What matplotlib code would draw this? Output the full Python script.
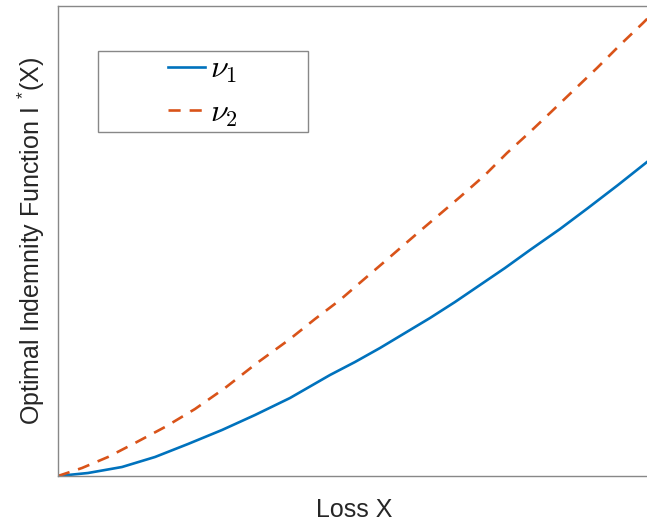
import matplotlib.pyplot as plt
from matplotlib.patches import Rectangle

plt.rcParams['font.family'] = ['Liberation Sans', 'DejaVu Sans']
plt.rcParams['mathtext.fontset'] = 'cm'

# values (arbitrary units, no ticks shown)
x1 = [0, 30, 64, 97, 130, 164, 197, 232, 272, 297, 322, 347, 372, 397, 422,
      447, 472, 502, 530, 560, 589]
nu1 = [0, 3, 9, 19, 32, 46, 61, 78, 101, 114, 128, 143, 158, 174, 191,
       208, 226, 247, 268, 291, 314]

x2 = [0, 24, 50, 77, 107, 137, 167, 199, 232, 257, 282, 304, 325, 362, 402,
      427, 449, 472, 492, 517, 539, 562, 585, 592]
nu2 = [0, 8, 19, 33, 49, 67, 88, 113, 137, 157, 176, 195, 213, 245, 279,
       301, 323, 344, 363, 387, 408, 431, 453, 460]

fig = plt.figure(figsize=(6.47, 5.22), dpi=100)
ax = fig.add_axes([58/647, 46/522, 592/647, 470/522])

ax.plot(x1, nu1, '-', color='#0072BD', lw=1.9, label=r'$\nu_1$')
ax.plot(x2, nu2, '--', color='#D95319', lw=1.9, dashes=(4.6, 3.4), label=r'$\nu_2$')

ax.set_xlim(0, 592)
ax.set_ylim(0, 470)
ax.set_xticks([])
ax.set_yticks([])
for s in ax.spines.values():
    s.set_color('#888888')
    s.set_linewidth(1.0)

ax.set_xlabel('Loss X', fontsize=18, color='#262626', labelpad=16)
ax.set_ylabel(r'Optimal Indemnity Function I $^{\mathregular{*}}$(X)', fontsize=18,
              color='#262626', labelpad=8)

ax.add_patch(Rectangle(((98-58)/592, (476-132)/470), 210/592, 81/470,
                       transform=ax.transAxes, fill=False, edgecolor='#888888', lw=1.0))
ax.legend(loc='upper left', bbox_to_anchor=((168-58)/592, (476-55)/470),
          frameon=False, fontsize=23, borderpad=0, borderaxespad=0,
          handlelength=1.15, handletextpad=0.15, labelspacing=0.4)

fig.savefig('out.png', dpi=100)
